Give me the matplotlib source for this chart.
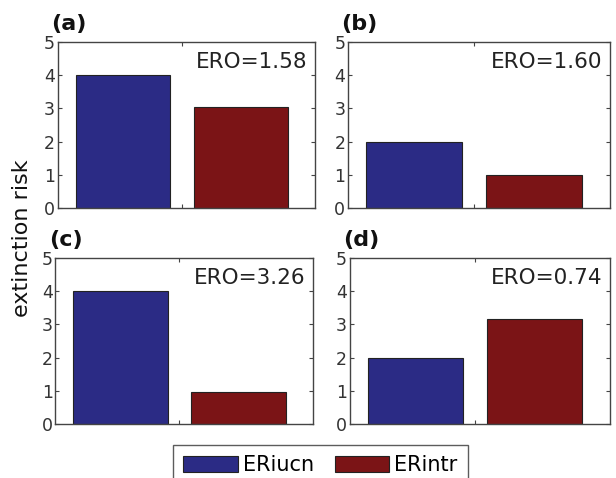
import numpy as np
import matplotlib.pyplot as plt
from matplotlib.patches import Patch

# data
panels = ['(a)', '(b)', '(c)', '(d)']
er_iucn = [4.0, 2.0, 4.0, 2.0]
er_intr = [3.03, 1.0, 0.95, 3.15]
ero = ['ERO=1.58', 'ERO=1.60', 'ERO=3.26', 'ERO=0.74']
series = ['ERiucn', 'ERintr']

blue = '#2b2b85'
red = '#7b1416'
gray = '#444444'

fig = plt.figure(figsize=(6.16, 4.78), dpi=100)

# axes boxes [left, bottom, width, height] in figure fraction
boxes = [
    [0.094, 0.565, 0.418, 0.347],
    [0.565, 0.565, 0.425, 0.347],
    [0.090, 0.113, 0.418, 0.347],
    [0.568, 0.113, 0.422, 0.347],
]

for i in range(4):
    ax = fig.add_axes(boxes[i])
    ax.bar([1, 2], [er_iucn[i], er_intr[i]], width=0.8,
           color=[blue, red], edgecolor='#222222', linewidth=0.8)
    ax.set_xlim(0.45, 2.63)
    ax.set_ylim(0, 5)
    ax.set_yticks(range(6))
    ax.set_xticks([1.5])
    ax.set_xticklabels([])
    ax.tick_params(direction='in', length=3, width=0.8, colors=gray,
                   labelsize=12.5, right=True, top=True, pad=2)
    ax.tick_params(axis='y', labelcolor='#333333')
    for s in ax.spines.values():
        s.set_color(gray)
        s.set_linewidth(1.0)
    ax.text(0.97, 0.94, ero[i], transform=ax.transAxes, ha='right', va='top',
            fontsize=15.5, color='#222222')
    ax.text(-0.025, 1.05, panels[i], transform=ax.transAxes, ha='left',
            va='bottom', fontsize=16, fontweight='bold', color='#111111')

fig.text(0.036, 0.502, 'extinction risk', rotation=90, ha='center',
         va='center', fontsize=16, color='#111111')

handles = [Patch(facecolor=blue, edgecolor='#222222', linewidth=0.8),
           Patch(facecolor=red, edgecolor='#222222', linewidth=0.8)]
fig.legend(handles, series, loc='lower center', bbox_to_anchor=(0.52, -0.038),
           ncol=2, fontsize=15, frameon=True, fancybox=False,
           edgecolor='#333333', handlelength=2.6, handleheight=0.8,
           columnspacing=1.0, handletextpad=0.25, borderpad=0.5)

fig.savefig('out.png', dpi=100)
